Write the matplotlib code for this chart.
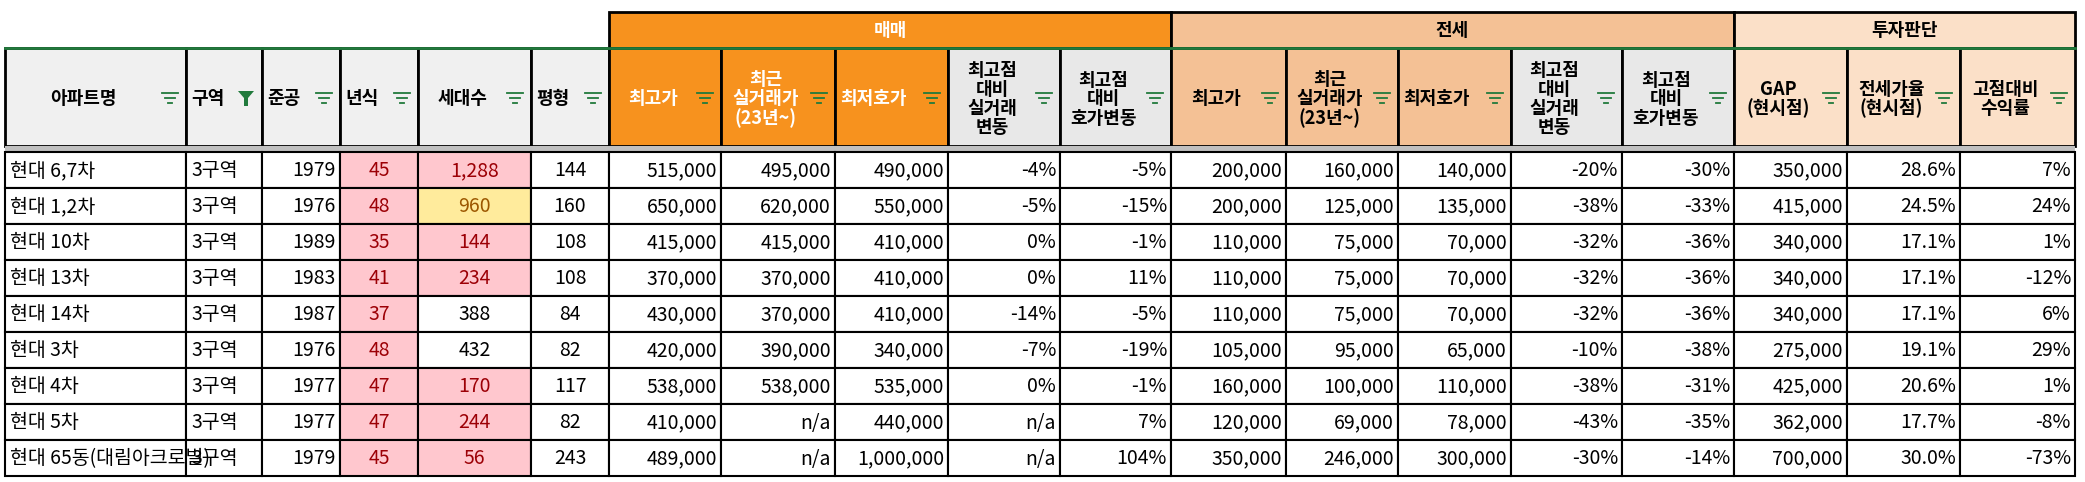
import matplotlib
matplotlib.use("Agg")
import matplotlib.pyplot as plt
from matplotlib.patches import Rectangle, Polygon
from matplotlib import font_manager

names = ["현대 6,7차", "현대 1,2차", "현대 10차", "현대 13차", "현대 14차", "현대 3차", "현대 4차", "현대 5차", "현대 65동(대림아크로빌)"]
zone = ["3구역"] * 9
built = ["1979", "1976", "1989", "1983", "1987", "1976", "1977", "1977", "1979"]
age = [45, 48, 35, 41, 37, 48, 47, 47, 45]
households = [1288, 960, 144, 234, 388, 432, 170, 244, 56]
pyeong = [144, 160, 108, 108, 84, 82, 117, 82, 243]
sale_high = [515000, 650000, 415000, 370000, 430000, 420000, 538000, 410000, 489000]
sale_recent = ["495,000", "620,000", "415,000", "370,000", "370,000", "390,000", "538,000", "n/a", "n/a"]
sale_low = [490000, 550000, 410000, 410000, 410000, 340000, 535000, 440000, 1000000]
sale_chg_real = ["-4%", "-5%", "0%", "0%", "-14%", "-7%", "0%", "n/a", "n/a"]
sale_chg_ask = ["-5%", "-15%", "-1%", "11%", "-5%", "-19%", "-1%", "7%", "104%"]
jeon_high = [200000, 200000, 110000, 110000, 110000, 105000, 160000, 120000, 350000]
jeon_recent = [160000, 125000, 75000, 75000, 75000, 95000, 100000, 69000, 246000]
jeon_low = [140000, 135000, 70000, 70000, 70000, 65000, 110000, 78000, 300000]
jeon_chg_real = ["-20%", "-38%", "-32%", "-32%", "-32%", "-10%", "-38%", "-43%", "-30%"]
jeon_chg_ask = ["-30%", "-33%", "-36%", "-36%", "-36%", "-38%", "-31%", "-35%", "-14%"]
gap = [350000, 415000, 340000, 340000, 340000, 275000, 425000, 362000, 700000]
jeon_ratio = ["28.6%", "24.5%", "17.1%", "17.1%", "17.1%", "19.1%", "20.6%", "17.7%", "30.0%"]
ret = ["7%", "24%", "1%", "-12%", "6%", "29%", "1%", "-8%", "-73%"]
hh_flag = ["r", "y", "r", "r", "", "", "r", "r", "r"]

headers = ["아파트명", "구역", "준공", "년식", "세대수", "평형", "최고가", "최근\n실거래가\n(23년~)", "최저호가",
           "최고점\n대비\n실거래\n변동", "최고점\n대비\n호가변동", "최고가", "최근\n실거래가\n(23년~)", "최저호가",
           "최고점\n대비\n실거래\n변동", "최고점\n대비\n호가변동", "GAP\n(현시점)", "전세가율\n(현시점)", "고점대비\n수익률"]
groups = [("매매", 6, 11), ("전세", 11, 16), ("투자판단", 16, 19)]

avail = {f.name for f in font_manager.fontManager.ttflist}
FONT = [f for f in ["Noto Sans CJK KR", "Noto Sans CJK JP", "Noto Sans CJK SC", "Noto Sans CJK TC"] if f in avail] + ["DejaVu Sans"]
plt.rcParams["font.family"] = FONT

W, H = 2085, 482
xs = [5, 186, 262, 340, 418, 531, 609, 721, 835, 948, 1060, 1171, 1286, 1398, 1511, 1622, 1734, 1847, 1960, 2075]
y_grp, y_hdr, y_hb, y_band = 12, 48, 146, 152
rh = 36

fig = plt.figure(figsize=(W / 100, H / 100), dpi=100)
ax = fig.add_axes([0, 0, 1, 1])
ax.set_xlim(0, W); ax.set_ylim(H, 0); ax.axis("off")

def fmt(v):
    return f"{v:,}" if isinstance(v, int) else v

ORANGE, JEON, INV, GRAY, GRAY2 = "#F7921E", "#F4C195", "#FBE0C8", "#F0F0F0", "#E8E8E8"
grp_col = {"매매": ORANGE, "전세": JEON, "투자판단": INV}
hdr_bg = [GRAY]*6 + [ORANGE]*3 + [GRAY2]*2 + [JEON]*3 + [GRAY2]*2 + [INV]*3
left_hdr = {1, 2, 3, 5, 8, 13}

for g, a, b in groups:
    ax.add_patch(Rectangle((xs[a], y_grp), xs[b]-xs[a], y_hdr-y_grp, fc=grp_col[g], ec="black", lw=2))
    ax.text((xs[a]+xs[b])/2, (y_grp+y_hdr)/2, g, ha="center", va="center",
            fontweight="bold", fontsize=13, color="white" if g == "매매" else "black")

for i, h in enumerate(headers):
    x0, x1 = xs[i], xs[i+1]
    ax.add_patch(Rectangle((x0, y_hdr), x1-x0, y_hb-y_hdr, fc=hdr_bg[i], ec="black", lw=2))
    tc = "white" if hdr_bg[i] == ORANGE else "black"
    if i in left_hdr:
        ax.text(x0 + 5, (y_hdr+y_hb)/2 + 2, h, ha="left", va="center", fontweight="bold",
                fontsize=13, color=tc, linespacing=1.0)
    else:
        ax.text((x0 + x1)/2 - 12, (y_hdr+y_hb)/2 + 2, h, ha="center", va="center", fontweight="bold",
                fontsize=13, color=tc, linespacing=1.0)
    cx, cy = x1 - 16, (y_hdr+y_hb)/2 + 2
    if i == 1:
        ax.add_patch(Polygon([(cx-8, cy-8), (cx+8, cy-8), (cx+2, cy-1), (cx+2, cy+7), (cx-2, cy+7), (cx-2, cy-1)],
                             closed=True, fc="#217A3C", ec="none"))
    else:
        for k, hw in enumerate([8, 5, 2]):
            ax.plot([cx-hw, cx+hw], [cy-6+k*5]*2, color="#217A3C", lw=1.3)
ax.plot([xs[0], xs[-1]], [y_hdr, y_hdr], color="#217A3C", lw=2)

ax.add_patch(Rectangle((xs[0], y_hb), xs[-1]-xs[0], y_band-y_hb, fc="#C0C0C0", ec="none"))

for r in range(9):
    y0 = y_band + r*rh
    vals = [names[r], zone[r], built[r], age[r], households[r], pyeong[r], sale_high[r], sale_recent[r],
            sale_low[r], sale_chg_real[r], sale_chg_ask[r], jeon_high[r], jeon_recent[r], jeon_low[r],
            jeon_chg_real[r], jeon_chg_ask[r], gap[r], jeon_ratio[r], ret[r]]
    for c, v in enumerate(vals):
        x0, x1 = xs[c], xs[c+1]
        fc, tc = "white", "black"
        if c == 3:
            fc, tc = "#FFC7CE", "#9C0006"
        if c == 4 and hh_flag[r] == "r":
            fc, tc = "#FFC7CE", "#9C0006"
        if c == 4 and hh_flag[r] == "y":
            fc, tc = "#FFEB9C", "#9C5700"
        ax.add_patch(Rectangle((x0, y0), x1-x0, rh, fc=fc, ec="black", lw=1.5))
        s = fmt(v)
        if c in (0, 1):
            t = ax.text(x0+5, y0+rh/2+1, s, ha="left", va="center", fontsize=14, color=tc)
            t.set_clip_path(Rectangle((x0, y0), x1-x0, rh, transform=ax.transData))
        elif c in (3, 4, 5):
            ax.text((x0+x1)/2, y0+rh/2+1, s, ha="center", va="center", fontsize=14, color=tc)
        else:
            ax.text(x1-4, y0+rh/2+1, s, ha="right", va="center", fontsize=14, color=tc)

fig.savefig("out.png", dpi=100)
